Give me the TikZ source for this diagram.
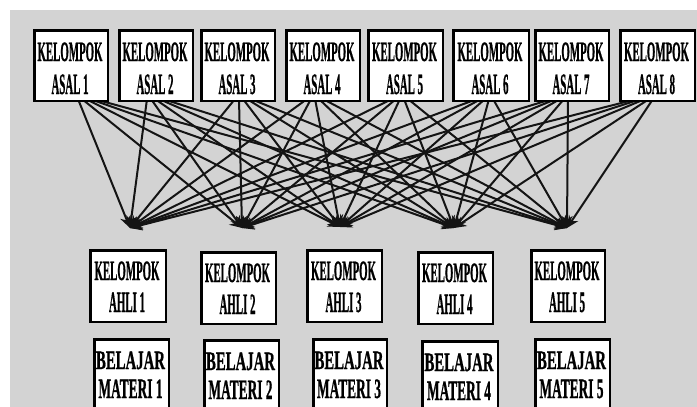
\documentclass[tikz,border=0pt]{standalone}
\usepackage{fontspec}
\setmainfont{Liberation Serif}
\newfontfamily\lblfont[BoldFeatures={FakeBold=1.2}]{Liberation Serif}
\usetikzlibrary{arrows.meta,calc}
\definecolor{bggray}{RGB}{211,211,211}
\newcommand\fitw[3]{\resizebox{#1pt}{#2pt}{\lblfont\bfseries #3}}
\tikzset{
  boxst/.style={draw=black, line width=2.8pt, fill=white, inner sep=0pt, anchor=north west},
  lbl/.style={inner sep=0pt, anchor=base},
  link/.style={line width=2pt, draw=black!92, -{Stealth[length=12pt,width=11pt]}},
}
\begin{document}
\begin{tikzpicture}[x=1pt,y=-1pt]
\useasboundingbox (0,0) rectangle (697,407);
\clip (0,0) rectangle (697,407);
\fill[white] (0,0) rectangle (697,407);
\fill[bggray] (10,10) rectangle (697,407);
% junctions
\coordinate (j1) at (130,228);
\coordinate (j2) at (242,228);
\coordinate (j3) at (340,227);
\coordinate (j4) at (454,228);
\coordinate (j5) at (567,228);
% connectors
\foreach \i/\b in {1/86,2/155,3/243,4/315,5/400,6/485,7/560,8/645}{
  \foreach \j in {1,...,5}{
    \coordinate (s\i-\j) at ({\b+(\j-3)*4},99);
    \draw[link] (s\i-\j) -- (j\j);
  }
}
% top boxes
\foreach \i/\xa/\xb in {1/32/108,2/117/193,3/199/275,4/284/360,5/366/443,6/451/529,7/533/609,8/618/695}{
  \node[boxst, minimum width={(\xb-\xa-2.8)*1pt}, minimum height=70.2pt] (asal\i) at ({\xa+1.4},29.4) {};
  \node[lbl] (asal\i k) at ({(\xa+\xb)/2},61) {\fitw{65}{18.5}{KELOMPOK}};
  \node[lbl] (asal\i n) at ({(\xa+\xb)/2},94) {\fitw{37}{19.5}{ASAL \i}};
}
% expert boxes
\foreach \i/\xa/\xb/\ya in {1/88/166/248,2/199/276/250,3/305/382/248,4/416/493/250,5/529/605/248}{
  \node[boxst, minimum width={(\xb-\xa-2.8)*1pt}, minimum height=71.2pt] (ahli\i) at ({\xa+1.4},{\ya+1.4}) {};
  \node[lbl] (ahli\i k) at ({(\xa+\xb)/2},{\ya+32}) {\fitw{65}{18.5}{KELOMPOK}};
  \node[lbl] (ahli\i n) at ({(\xa+\xb)/2},{\ya+64}) {\fitw{36}{19.5}{AHLI \i}};
}
% study boxes
\foreach \i/\xa/\xb/\ya in {1/92/169/337,2/202/279/338,3/311/387/337,4/420/498/339,5/533/610/337}{
  \node[boxst, minimum width={(\xb-\xa-2.8)*1pt}, minimum height=100pt] (bel\i) at ({\xa+1.4},{\ya+1.4}) {};
  \node[lbl] (bel\i k) at ({(\xa+\xb)/2},{\ya+32}) {\fitw{69}{17.5}{BELAJAR}};
  \node[lbl] (bel\i n) at ({(\xa+\xb)/2},{\ya+61}) {\fitw{64}{18.5}{MATERI \i}};
}
\end{tikzpicture}
\end{document}
